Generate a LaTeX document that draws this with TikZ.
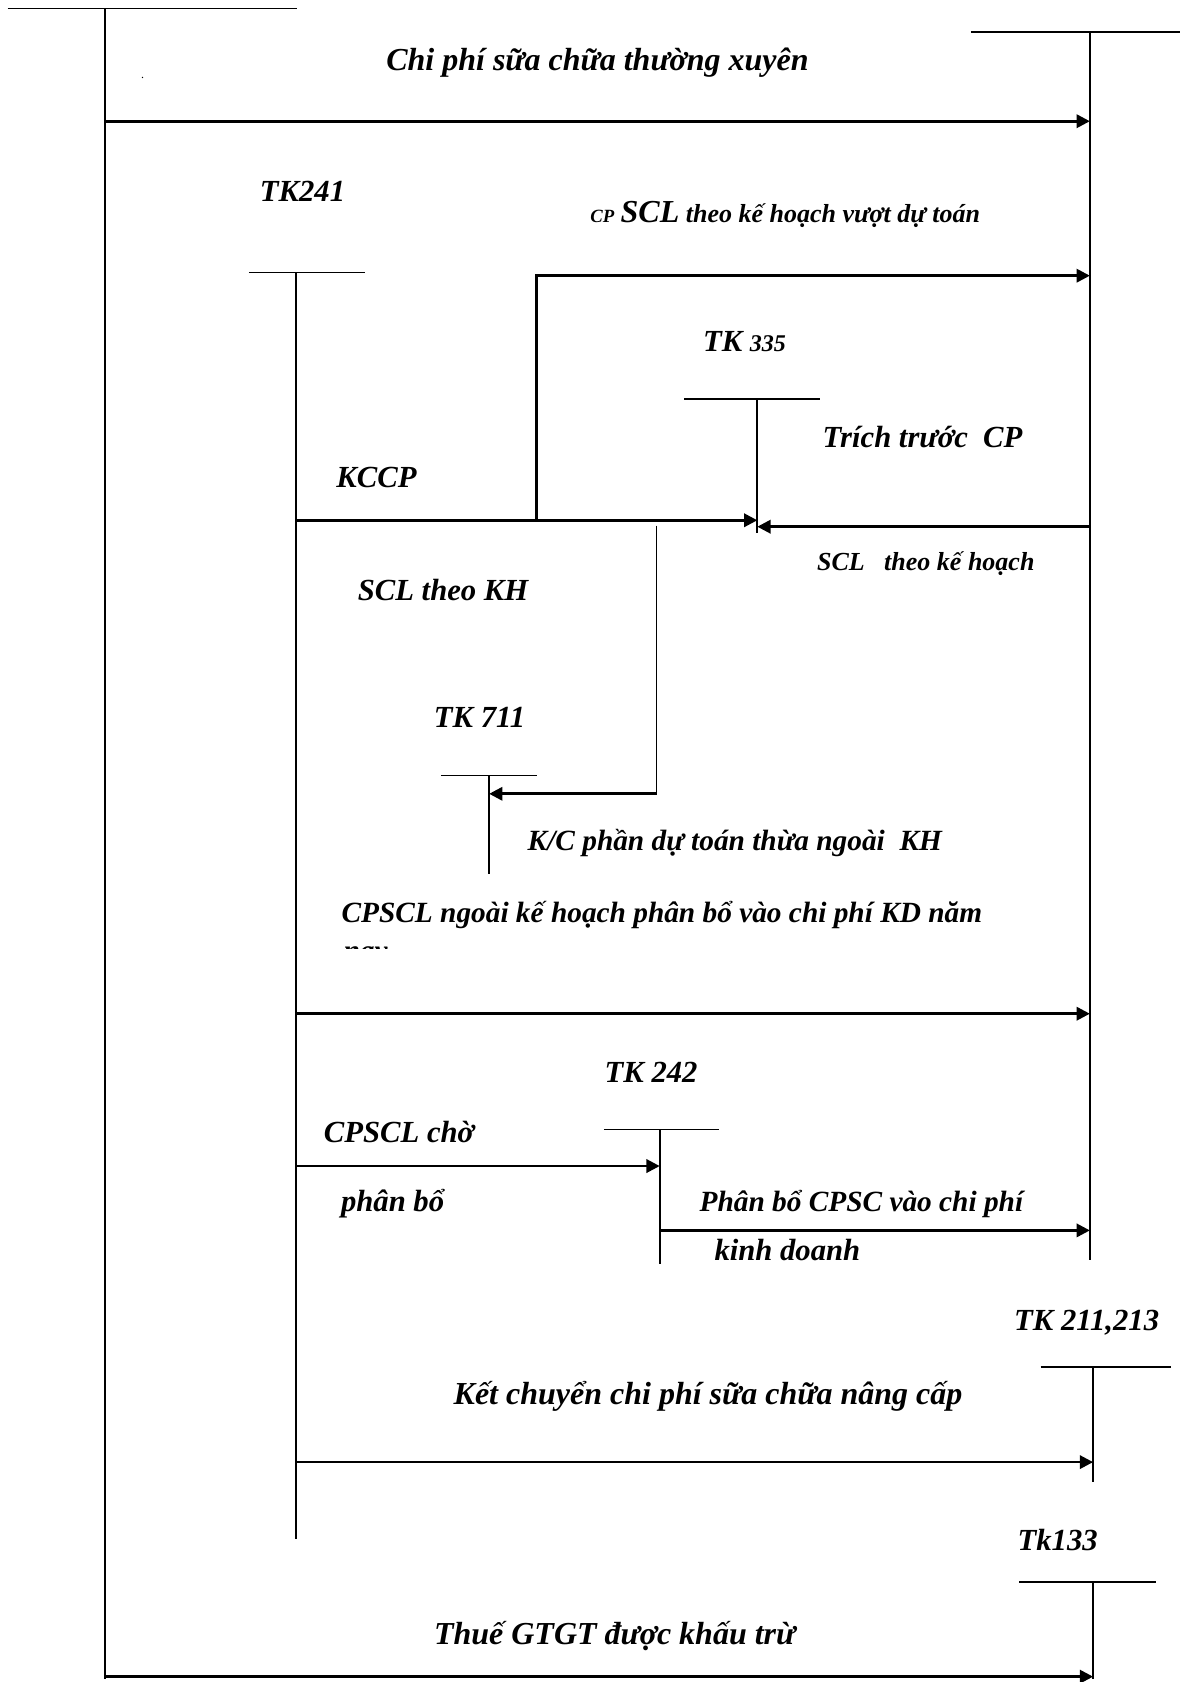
\documentclass[tikz,border=0pt]{standalone}
\usepackage{fontspec}
\setmainfont{Liberation Serif}
\usetikzlibrary{arrows.meta}

\begin{document}
\begin{tikzpicture}[x=0.8045pt,y=-0.8045pt,>={Triangle[length=10pt,width=10pt]},
 l/.style={font=\bfseries\itshape\fontsize{23}{27}\selectfont,inner sep=0pt},
 lb/.style={font=\bfseries\itshape\fontsize{24}{28}\selectfont,inner sep=0pt},
 lk/.style={font=\bfseries\itshape\fontsize{22}{26}\selectfont,inner sep=0pt},
 ls/.style={font=\bfseries\itshape\fontsize{19.5}{22}\selectfont,inner sep=0pt},
 t/.style={line width=1.3pt},
 d/.style={->,line width=2pt}]
\useasboundingbox (0,0) rectangle (1102,1568);
% T accounts: axis top and bottom
\coordinate (o) at (98,8); \coordinate (ob) at (98,1565);
\coordinate (c627) at (1016,30); \coordinate (c627b) at (1016,1175);
\coordinate (c241) at (276,254); \coordinate (c241b) at (276,1435);
\coordinate (c335) at (706,372); \coordinate (c335b) at (706,497);
\coordinate (c711) at (456,723); \coordinate (c711b) at (456,815);
\coordinate (c242) at (615,1053); \coordinate (c242b) at (615,1178);
\coordinate (c211) at (1019,1274); \coordinate (c211b) at (1019,1382);
\coordinate (c133) at (1019,1475); \coordinate (c133b) at (1019,1565);
\draw[t] (7,8) -- (277,8) (o) -- (ob);
\draw[t] (905,30) -- (1100,30) (c627) -- (c627b);
\draw[t] (232,254) -- (340,254) (c241) -- (c241b);
\draw[t] (638,372) -- (764,372) (c335) -- (c335b);
\draw[t] (411,723) -- (501,723) (c711) -- (c711b);
\draw[t] (563,1053) -- (670,1053) (c242) -- (c242b);
\draw[t] (970,1274) -- (1092,1274) (c211) -- (c211b);
\draw[t] (950,1475) -- (1078,1475) (c133) -- (c133b);
% account labels
\node[l] (n241) at (282,178) {TK241};
\node[l] (n335) at (694,318) {TK {\fontsize{18}{21}\selectfont 335}};
\node[l] (n711) at (447,669) {TK 711};
\node[l] (n242) at (607,1000) {TK 242};
\node[l] (n211) at (1013,1233) {TK 211,213};
\node[l] (n133) at (986,1436) {Tk133};
% flows
\coordinate (k1) at (500,485);
\coordinate (k2) at (612,490);
\draw[d] (o|-0,113) -- (c627|-0,113);
\draw[d] (k1) -- (k1|-0,257) -- (c627|-0,257);
\draw[d] (c241|-0,485) -- (c335|-0,485);
\draw[d] (c627|-0,491) -- (c335|-0,491);
\draw[t] (k2) -- (k2|-0,740);
\draw[d] (k2|-0,740) -- (c711|-0,740);
\draw[d] (c241|-0,945) -- (c627|-0,945);
\draw[d] (c241|-0,1087) -- (c242|-0,1087);
\draw[d] (c242|-0,1147) -- (c627|-0,1147);
\draw[d] (c241|-0,1363) -- (c211|-0,1363);
\draw[d] (o|-0,1563) -- (c133|-0,1563);
% flow labels
\node[lb] (m1) at (557,58) {Chi phí sữa chữa thường xuyên};
\node[font=\small] (dot) at (133,73) {.};
\node[ls] (m2) at (732,200) {{\fontsize{14}{16}\selectfont CP} {\fontsize{24}{28}\selectfont SCL} theo kế hoạch vượt dự toán};
\node[l] (m3) at (860,407) {Trích trước\ \ CP};
\node[l] (m4) at (351,445) {KCCP};
\node[ls] (m5) at (863,525) {SCL\ \ \ theo kế hoạch};
\node[l] (m6) at (413,550) {SCL theo KH};
\node[lk] (m7) at (685,786) {K/C phần dự toán thừa ngoài\ \ KH};
\node[lk] (m8) at (617,853) {CPSCL ngoài kế hoạch phân bổ vào chi phí KD năm};
\begin{scope}
\clip (300,870) rectangle (400,884);
\node[lk,anchor=west] (m9) at (320,892) {nay};
\end{scope}
\node[l] (m10) at (372,1055) {CPSCL chờ};
\node[l] (m11) at (366,1122) {phân bổ};
\node[lk] (m12) at (803,1122) {Phân bổ CPSC vào chi phí};
\node[l] (m13) at (734,1165) {kinh doanh};
\node[lb] (m14) at (660,1302) {Kết chuyển chi phí sữa chữa nâng cấp};
\node[lb] (m15) at (573,1525) {Thuế GTGT được khấu trừ};
\end{tikzpicture}
\end{document}
